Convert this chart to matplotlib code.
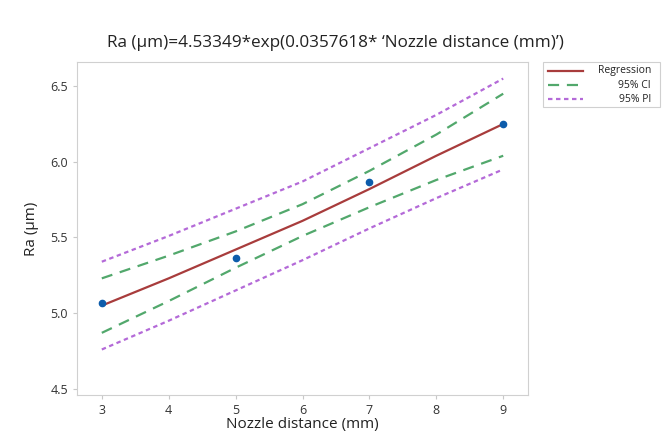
import matplotlib
matplotlib.use('Agg')
import matplotlib.pyplot as plt
from matplotlib.lines import Line2D
from matplotlib.patches import Rectangle

plt.rcParams['font.family'] = ['Open Sans', 'DejaVu Sans']

# Daten
x_pts = [3, 5, 7, 9]
ra_pts = [5.07, 5.365, 5.866, 6.25]

x_line = [3, 4, 5, 6, 7, 8, 9]
reg = [5.05, 5.23, 5.42, 5.61, 5.82, 6.04, 6.25]
ci_upper = [5.23, 5.38, 5.54, 5.72, 5.94, 6.18, 6.45]
ci_lower = [4.87, 5.08, 5.30, 5.51, 5.70, 5.88, 6.04]
pi_upper = [5.34, 5.51, 5.69, 5.87, 6.09, 6.31, 6.55]
pi_lower = [4.76, 4.95, 5.15, 5.35, 5.56, 5.76, 5.95]

legend_labels = ['Regression', '95% CI', '95% PI']

c_reg, c_ci, c_pi = '#a83c3c', '#52a86c', '#b46ad8'
ls_ci, ls_pi = (0, (5, 3.5)), (0, (2, 1.6))

fig = plt.figure(figsize=(6.7, 4.33), dpi=100)
ax = fig.add_axes([0.115, 0.088, 0.673, 0.769])

ax.plot(x_line, reg, color=c_reg, lw=1.6)
ax.plot(x_line, ci_upper, color=c_ci, lw=1.6, ls=ls_ci)
ax.plot(x_line, ci_lower, color=c_ci, lw=1.6, ls=ls_ci)
ax.plot(x_line, pi_upper, color=c_pi, lw=1.6, ls=ls_pi)
ax.plot(x_line, pi_lower, color=c_pi, lw=1.6, ls=ls_pi)
ax.plot(x_pts, ra_pts, 'o', color='#0d5cab', ms=4.5, zorder=5)

ax.set_xlim(2.63, 9.37)
ax.set_ylim(4.46, 6.66)
ax.set_xticks([3, 4, 5, 6, 7, 8, 9])
ax.set_yticks([4.5, 5.0, 5.5, 6.0, 6.5])
ax.set_yticklabels(['4.5', '5.0', '5.5', '6.0', '6.5'])

for s in ax.spines.values():
    s.set_color('#d0d0d0')
ax.tick_params(colors='#c8c8c8', labelcolor='#333333', labelsize=9, length=3)

ax.set_xlabel('Nozzle distance (mm)', fontsize=11, color='#222222', labelpad=0)
ax.set_ylabel('Ra (µm)', fontsize=11, color='#222222', labelpad=8)
fig.text(0.5, 0.892, "Ra (µm)=4.53349*exp(0.0357618* ‘Nozzle distance (mm)’)",
         ha='center', fontsize=12.3, color='#222222')

# Legende von Hand, Text rechtsbündig
fig.patches.append(Rectangle((543 / 670, 1 - 107 / 433), 117 / 670, 45 / 433,
                             transform=fig.transFigure, fill=False,
                             edgecolor='#d0d0d0', lw=0.8))
styles = [('-', c_reg), (ls_ci, c_ci), (ls_pi, c_pi)]
for i, (lab, (ls, c)) in enumerate(zip(legend_labels, styles)):
    y = 1 - (71 + 14 * i) / 433
    fig.add_artist(Line2D([548 / 670, 583 / 670], [y, y], transform=fig.transFigure,
                          color=c, ls=ls, lw=1.6))
    fig.text(651 / 670, y, lab, ha='right', va='center', fontsize=7.5, color='#222222')

fig.savefig('out.png', dpi=100)
